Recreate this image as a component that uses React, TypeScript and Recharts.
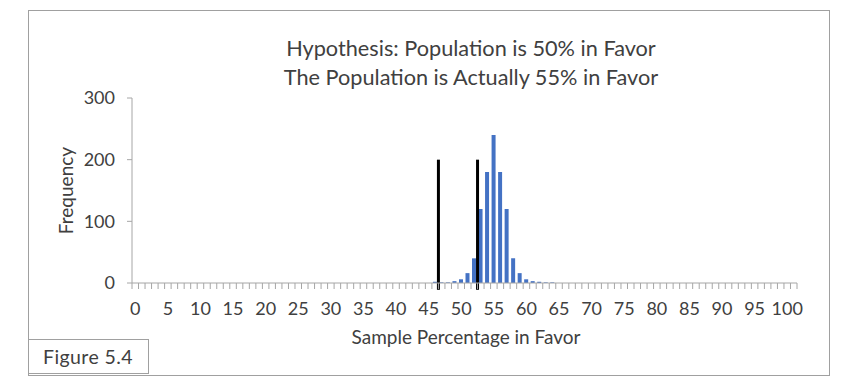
import React from 'react'
import { BarChart, Bar, XAxis, YAxis, ReferenceLine } from 'recharts'

// sample percentage in favor (only the non-empty bins)
const percents = [46, 47, 48, 49, 50, 51, 52, 53, 54, 55, 56, 57, 58, 59, 60, 61, 62, 63, 64]
const frequencies = [2, 1, 1, 3, 6, 16, 40, 120, 180, 240, 180, 120, 40, 16, 6, 3, 2, 1, 1]

// critical values drawn as thick black lines
const cutoffs = [46.5, 52.5]
const cutoffHeight = 200

const xLabels = [0, 5, 10, 15, 20, 25, 30, 35, 40, 45, 50, 55, 60, 65, 70, 75, 80, 85, 90, 95, 100]
const yTicks = [0, 100, 200, 300]
// category boundaries 0..101 -> minor tick marks between bins
const binEdges = Array.from({ length: 103 }, (_, i) => i - 0.5)

const data = percents.map((p, i) => ({ pct: p, freq: frequencies[i] }))

const FONT = 'Lato, sans-serif'
const TEXT = '#404040'
const GRID = '#a6a6a6'

export default function App() {
  return (
    <div style={{ position: 'absolute', left: 0, top: 0, width: 850, height: 389, background: '#fff', fontFamily: FONT }}>
      <div style={{ position: 'absolute', left: 28, top: 10, width: 800, height: 364, border: '1px solid #a0a0a0' }} />
      <div style={{ position: 'absolute', left: 0, top: 0 }}>
        <BarChart
          width={850}
          height={389}
          data={data}
          margin={{ top: 98, right: 53, bottom: 75, left: 1 }}
        >
          <XAxis
            xAxisId="a-edges"
            type="number"
            dataKey="pct"
            domain={[-0.5, 101.5]}
            ticks={binEdges}
            interval={0}
            height={1}
            tick={{ fontSize: 0 }}
            tickFormatter={() => ''}
            tickSize={6}
            axisLine={{ stroke: GRID }}
            tickLine={{ stroke: GRID }}
          />
          <XAxis
            xAxisId="b-labels"
            type="number"
            dataKey="pct"
            domain={[-0.5, 101.5]}
            ticks={xLabels}
            interval={0}
            height={30}
            axisLine={false}
            tickLine={{ stroke: 'none' }}
            tickSize={18}
            tickMargin={0}
            tick={{ fill: TEXT, fontSize: 18, fontFamily: FONT }}
          />
          <YAxis
            domain={[0, 300]}
            ticks={yTicks}
            interval={0}
            width={131}
            axisLine={{ stroke: GRID }}
            tickLine={{ stroke: GRID }}
            tickSize={5}
            tickMargin={12}
            tick={{ fill: TEXT, fontSize: 18, fontFamily: FONT }}
            label={{ value: 'Frequency', angle: -90, position: 'center', fill: TEXT, fontSize: 19, fontFamily: FONT }}
          />
          <Bar dataKey="freq" xAxisId="a-edges" fill="#4472C4" barSize={4} isAnimationActive={false} />
          {cutoffs.map((c) => (
            <ReferenceLine
              key={c}
              xAxisId="a-edges"
              segment={[{ x: c, y: -11 }, { x: c, y: cutoffHeight }]}
              stroke="#000"
              strokeWidth={3}
              ifOverflow="visible"
            />
          ))}
        </BarChart>
      </div>
      <div style={{ position: 'absolute', left: 271, top: 34, width: 400, textAlign: 'center', fontSize: 21.7, lineHeight: '29px', color: TEXT }}>
        <div>Hypothesis: Population is 50% in Favor</div>
        <div>The Population is Actually 55% in Favor</div>
      </div>
      <div style={{ position: 'absolute', left: 266, top: 325, width: 400, textAlign: 'center', fontSize: 19, lineHeight: '24px', color: TEXT }}>
        Sample Percentage in Favor
      </div>
      <div style={{ position: 'absolute', left: 28, top: 339, width: 121, height: 35, border: '1px solid #a0a0a0', background: '#fff', fontSize: 19.5, letterSpacing: 0.4, lineHeight: '34px', paddingLeft: 14, boxSizing: 'border-box', color: TEXT }}>
        Figure 5.4
      </div>
    </div>
  )
}
